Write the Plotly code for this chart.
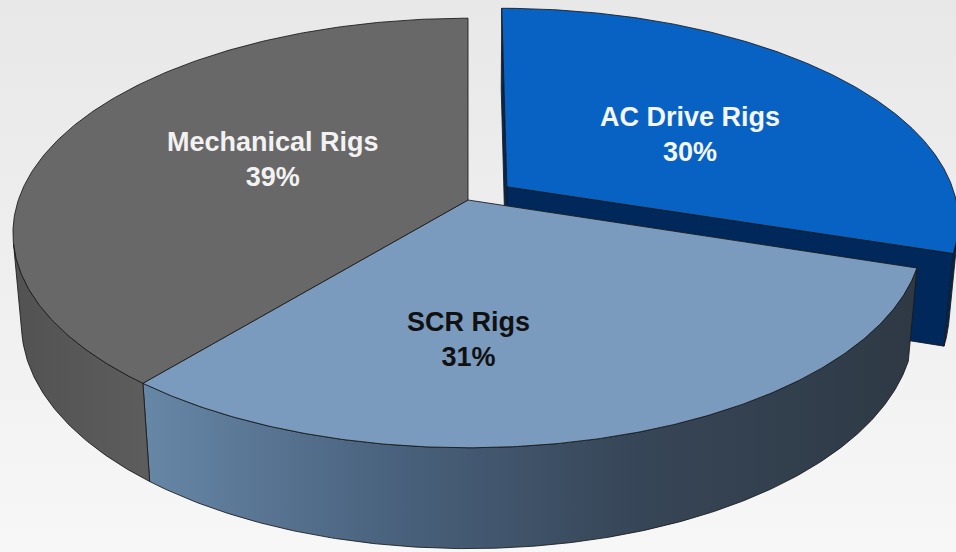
import numpy as np
import plotly.graph_objects as go

# ---- data -------------------------------------------------------------
categories = ["AC Drive Rigs", "SCR Rigs", "Mechanical Rigs"]
shares = [30, 31, 39]                 # percent of rigs
exploded = [True, False, False]       # pulled-out slices

# ---- styling ----------------------------------------------------------
top_colors = ["#0862c3", "#7a9bbe", "#686868"]
wall_scales = [
    [[0, "#00295c"], [1, "#00224e"]],
    [[0, "#6787a7"], [0.3, "#4b6480"], [0.63, "#374658"], [1, "#2e3944"]],
    [[0, "#525252"], [1, "#5d5d5d"]],
]
cut_color = "#00285a"
label_colors = ["#f4f6fa", "#111111", "#f2f2f2"]
# label anchors in screen units (x, y)
label_pos = [(690, 134), (468, 339), (273, 159)]
edge = dict(color="rgba(25,25,25,0.85)", width=1)

W, H = 956, 552

# ---- perspective camera for a flat cylinder of radius 1 ---------------
ELEV = np.radians(27.8)
C, S = np.cos(ELEV), np.sin(ELEV)
DIST, FOCAL = 5.76, 2590.0
CX, CY = 468.0, 200.0
THICK = 0.231
PULL = 0.108
CAM = np.array([0.0, -DIST * C, DIST * S])


def proj(X, Y, Z):
    X, Y, Z = np.asarray(X, float), np.asarray(Y, float), np.asarray(Z, float)
    depth = DIST + Y * C - Z * S
    return CX + FOCAL * X / depth, CY - FOCAL * (Y * S + Z * C) / depth


def poly(xs, ys):
    return list(np.append(xs, xs[0])), list(np.append(ys, ys[0]))


fig = go.Figure()

# backdrop
fig.add_trace(go.Scatter(
    x=[0, W, W, 0, 0], y=[0, 0, H, H, 0], mode="lines", fill="toself",
    line=dict(width=0),
    fillgradient=dict(type="vertical",
                      colorscale=[[0, "#f7f7f7"], [0.5, "#efefef"], [1, "#e8e8e8"]]),
    hoverinfo="skip"))

# slice angles: clockwise from 12 o'clock
spans = []
start = 90.0
for v in shares:
    sweep = 360.0 * v / sum(shares)
    spans.append((start - sweep, start))   # counter-clockwise [lo, hi]
    start -= sweep


def slice_geometry(i):
    lo, hi = np.radians(spans[i][0]), np.radians(spans[i][1])
    mid = 0.5 * (lo + hi)
    off = np.array([np.cos(mid), np.sin(mid)]) * (PULL if exploded[i] else 0.0)
    return lo, hi, off


def draw_slice(i, parts):
    lo, hi, off = slice_geometry(i)
    th = np.linspace(lo, hi, 240)
    rx, ry = off[0] + np.cos(th), off[1] + np.sin(th)

    if "cut" in parts:
        for ang, sgn in ((lo, -1), (hi, 1)):
            nrm = np.array([np.cos(ang + sgn * np.pi / 2), np.sin(ang + sgn * np.pi / 2), 0])
            o3 = np.array([off[0], off[1], 0])
            if nrm @ (CAM - o3) <= 0:
                continue
            ex, ey = off[0] + np.cos(ang), off[1] + np.sin(ang)
            qx, qy = proj([off[0], ex, ex, off[0]], [off[1], ey, ey, off[1]],
                          [0, 0, -THICK, -THICK])
            px, py = poly(qx, qy)
            fig.add_trace(go.Scatter(x=px, y=py, mode="lines", fill="toself",
                                     fillcolor=cut_color, line=edge, hoverinfo="skip"))

    if "wall" in parts:
        # outer wall: keep only the part facing the camera
        vis = (np.cos(th) * (CAM[0] - rx) + np.sin(th) * (CAM[1] - ry)) > 0
        if vis.any():
            t = th[vis]
            wx, wy = off[0] + np.cos(t), off[1] + np.sin(t)
            tx, ty = proj(wx, wy, np.zeros_like(t))
            bx, by = proj(wx[::-1], wy[::-1], np.full_like(t, -THICK))
            px, py = poly(np.concatenate([tx, bx]), np.concatenate([ty, by]))
            fig.add_trace(go.Scatter(
                x=px, y=py, mode="lines", fill="toself", line=edge,
                fillgradient=dict(type="horizontal", colorscale=wall_scales[i]),
                hoverinfo="skip"))

    if "top" in parts:
        tx, ty = proj(np.concatenate([[off[0]], rx]), np.concatenate([[off[1]], ry]),
                      np.zeros(len(th) + 1))
        px, py = poly(tx, ty)
        fig.add_trace(go.Scatter(x=px, y=py, mode="lines", fill="toself",
                                 fillcolor=top_colors[i], line=edge, hoverinfo="skip"))


# pulled-out slice sits behind the rest of the pie
for i in range(len(shares)):
    if exploded[i]:
        draw_slice(i, ("cut", "wall", "top"))
rest = [i for i in range(len(shares)) if not exploded[i]]
for i in rest:
    draw_slice(i, ("wall",))
for i in rest:
    draw_slice(i, ("top",))

for i, name in enumerate(categories):
    fig.add_annotation(
        x=label_pos[i][0], y=label_pos[i][1], showarrow=False,
        text=f"<b>{name}<br>{shares[i]}%</b>",
        font=dict(family="Liberation Sans, Arial, sans-serif", size=27,
                  color=label_colors[i]),
        align="center")

fig.update_layout(
    width=W, height=H, margin=dict(l=0, r=0, t=0, b=0),
    paper_bgcolor="#efefef", plot_bgcolor="#efefef", showlegend=False,
    xaxis=dict(range=[0, W], visible=False, fixedrange=True),
    yaxis=dict(range=[H, 0], visible=False, fixedrange=True),
)

fig.write_html("out.html")
